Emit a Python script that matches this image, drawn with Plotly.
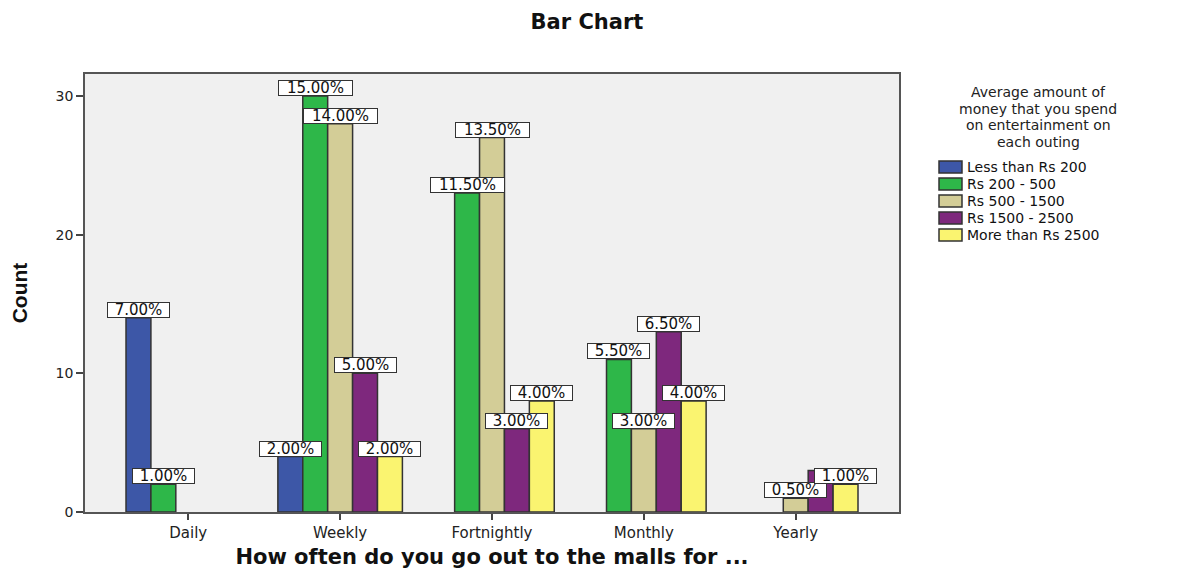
import plotly.graph_objects as go

# ---------------- data ----------------
categories = ["Daily", "Weekly", "Fortnightly", "Monthly", "Yearly"]
series_names = ["Less than Rs 200", "Rs 200 - 500", "Rs 500 - 1500",
                "Rs 1500 - 2500", "More than Rs 2500"]
less_than_200 = [14, 4, 0, 0, 0]
rs_200_500 = [2, 30, 23, 11, 0]
rs_500_1500 = [0, 28, 27, 6, 1]
rs_1500_2500 = [0, 10, 6, 13, 3]
more_than_2500 = [0, 4, 8, 8, 2]
y_ticks = [0, 10, 20, 30]
legend_title_lines = ["Average amount of", "money that you spend",
                      "on entertainment on", "each outing"]
# labels that the original chart hides because they overlap
hidden_labels = [("Yearly", "Rs 1500 - 2500")]

series_values = [less_than_200, rs_200_500, rs_500_1500, rs_1500_2500, more_than_2500]
colors = ["#3D57A7", "#2EB749", "#D3CD97", "#7E287D", "#FAF470"]

total = sum(sum(s) for s in series_values)

# ---------------- geometry (screen pixels; page body has an 8px margin) ----------------
OFF = 8
W, H = 1177 - OFF, 569 - OFF
L, R, T, B = 85 - OFF, 899 - OFF, 74 - OFF, 512 - OFF
BARGAP = 0.18


def px_x(px):
    return (px - OFF - L) / (R - L)


def px_y(py):
    return (B - (py - OFF)) / (B - T)


fig = go.Figure()
for name, vals, col in zip(series_names, series_values, colors):
    fig.add_trace(go.Bar(
        x=categories, y=[v if v > 0 else None for v in vals], name=name,
        marker=dict(color=col, line=dict(color="#333333", width=1.5)),
        showlegend=False, hoverinfo="x+y+name",
    ))

# percentage labels
n = len(series_names)
bw = (1 - BARGAP) / n
annotations = []
for i, (name, vals) in enumerate(zip(series_names, series_values)):
    for j, (cat, v) in enumerate(zip(categories, vals)):
        if v <= 0 or (cat, name) in hidden_labels:
            continue
        txt = f"{v / total * 100:.2f}%"
        annotations.append(dict(
            x=j + (i - (n - 1) / 2) * bw, y=v, xref="x", yref="y",
            text=txt, showarrow=False, yanchor="bottom", xanchor="center",
            font=dict(family="DejaVu Sans", size=15, color="#111111"),
            bgcolor="white", bordercolor="#333333", borderwidth=1, borderpad=0,
            width=12 * len(txt) + 1, height=14,
        ))

# manual legend
shapes = []
title_y = [92, 108.7, 125.4, 142.1]
for line, yy in zip(legend_title_lines, title_y):
    annotations.append(dict(
        x=px_x(1038), y=px_y(yy), xref="paper", yref="paper",
        text=line, showarrow=False, xanchor="center", yanchor="middle",
        font=dict(family="DejaVu Sans", size=14, color="#222222"),
        height=16,
    ))
item_y = [167, 184, 201, 218, 235]
for name, col, yy in zip(series_names, colors, item_y):
    shapes.append(dict(
        type="rect", xref="paper", yref="paper",
        x0=px_x(939), x1=px_x(962), y0=px_y(yy + 6), y1=px_y(yy - 6),
        fillcolor=col, line=dict(color="#333333", width=1.5),
    ))
    annotations.append(dict(
        x=px_x(965), y=px_y(yy), xref="paper", yref="paper",
        text=name, showarrow=False, xanchor="left", yanchor="middle",
        font=dict(family="DejaVu Sans", size=14, color="#111111"),
        height=16,
    ))

fig.update_layout(
    width=W, height=H,
    margin=dict(l=L, r=W - R, t=T, b=H - B, autoexpand=False),
    paper_bgcolor="white", plot_bgcolor="#F0F0F0",
    barmode="group", bargap=BARGAP, bargroupgap=0,
    showlegend=False,
    title=dict(text="<b>Bar Chart</b>", x=(587 - OFF) / W, xref="container", xanchor="center",
               y=1 - (22 - OFF) / H, yref="container", yanchor="middle",
               font=dict(family="DejaVu Sans", size=21, color="#111111")),
    annotations=annotations, shapes=shapes,
)
fig.update_xaxes(
    type="category", categoryorder="array", categoryarray=categories,
    range=[-0.68, len(categories) - 1 + 0.68],
    showline=True, linecolor="#555555", linewidth=1.5, mirror=True,
    ticks="outside", ticklen=6, tickwidth=1.5, tickcolor="#444444",
    tickfont=dict(family="DejaVu Sans", size=15, color="#222222"),
    showgrid=False, zeroline=False,
    title=dict(text="<b>How often do you go out to the malls for ...</b>",
               font=dict(family="DejaVu Sans", size=21, color="#111111"),
               standoff=14),
)
fig.update_yaxes(
    range=[0, 31.58], tickvals=y_ticks,
    showline=True, linecolor="#555555", linewidth=1.5, mirror=True,
    ticks="outside", ticklen=7, tickwidth=1.5, tickcolor="#444444",
    tickfont=dict(family="DejaVu Sans", size=14, color="#222222"),
    showgrid=False, zeroline=False,
    title=dict(text="<b>Count</b>",
               font=dict(family="Liberation Sans Narrow, Liberation Sans", size=21, color="#111111"),
               standoff=22),
)

fig.write_html("out.html")
